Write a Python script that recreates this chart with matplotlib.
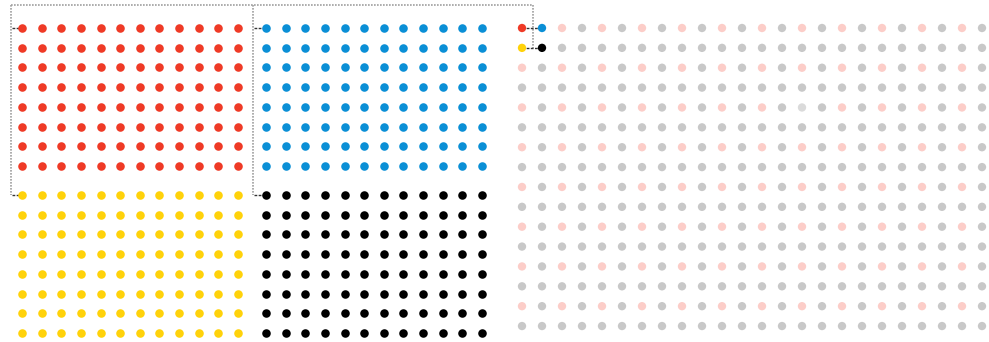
import matplotlib.pyplot as plt
import numpy as np

# four sub-grids (12 x 8 each) on the left
block_colors = ["#ef3a26", "#0a8fd6", "#ffd20a", "#000000"]
block_rows = 8
block_cols = 12

# full 24 x 16 grid on the right, one letter per dot
grid_rows = [
    "RBpgpgpgpgpgpgpgpgpgpgpg",
    "YKgggggggggggggggggggggg",
    "pgpgpgpgpgpgpgpgpgpgpgpg",
    "gggggggggggggggggggggggg",
    "pgpgpgpgpgpgpglgpgpgpgpg",
    "gggggggggggggggggggggggg",
    "pgpgpgpgpgpgpgpgpgpgpgpg",
    "gggggggggggggggggggggggg",
    "pgpgpgpgpgpgpgpgpgpgpgpg",
    "gggggggggggggggggggggggg",
    "pgpgpgpgpgpgpgpgpgpgpgpg",
    "gggggggggggggggggggggggg",
    "pgpgpgpgpgpgpgpgpgpgpgpg",
    "gggggggggggggggggggggggg",
    "pgpgpgpgpgpgpgpgpgpgpgpg",
    "gggggggggggggggggggggggg",
]
letter_colors = {"R": "#ef3a26", "B": "#0a8fd6", "Y": "#ffd20a", "K": "#000000",
                 "p": "#fccdc8", "g": "#c8c8c8", "l": "#dadada"}

fig = plt.figure(figsize=(9.89, 3.42), dpi=100)
ax = fig.add_axes([0, 0, 1, 1])
ax.set_xlim(0, 989)
ax.set_ylim(342, 0)
ax.axis("off")

# left blocks
step_x, step_y = 19.64, 19.7
origins = [(22, 28), (266, 28), (22, 195), (266, 195)]
for color, (ox, oy) in zip(block_colors, origins):
    cx, cy = np.meshgrid(np.arange(block_cols), np.arange(block_rows))
    ax.scatter(ox + cx.ravel() * step_x, oy + cy.ravel() * step_y,
               s=38, color=color, linewidths=0, zorder=3)

# right grid
rx0, ry0, rsx, rsy = 522, 28, 20, 19.87
xs, ys, cs = [], [], []
for r, row in enumerate(grid_rows):
    for c, ch in enumerate(row):
        xs.append(rx0 + c * rsx)
        ys.append(ry0 + r * rsy)
        cs.append(letter_colors[ch])
ax.scatter(xs, ys, s=36, c=cs, linewidths=0, zorder=3)

# dotted connector lines
dot = dict(color="#a0a0a0", lw=1.2, linestyle=(0, (1, 0.8)), zorder=1)
ax.plot([11, 533], [5, 5], **dot)
ax.plot([11, 11], [5, 195], **dot)
ax.plot([253, 253], [5, 195], **dot)
ax.plot([533, 533], [5, 47.7], **dot)

dash = dict(color="#333333", lw=1.0, linestyle=(0, (2, 1)), zorder=2)
ax.plot([12, 20], [28, 28], **dash)
ax.plot([12, 20], [195, 195], **dash)
ax.plot([254, 264], [28, 28], **dash)
ax.plot([254, 264], [195, 195], **dash)
ax.plot([522, 542], [28, 28], **dash)
ax.plot([522, 542], [47.9, 47.9], **dash)

fig.savefig("out.png", dpi=100)
